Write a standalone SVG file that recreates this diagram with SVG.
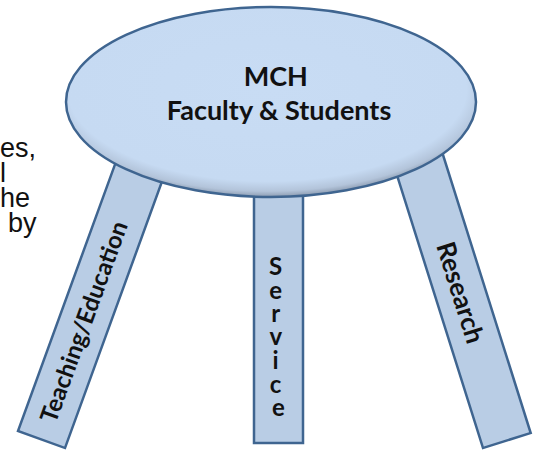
<svg xmlns="http://www.w3.org/2000/svg" width="535" height="450" viewBox="0 0 535 450">
  <defs>
    <!-- bevelled top: light centre, darker rim toward the lower edge -->
    <radialGradient id="topShade" cx="0.49" cy="0.43" r="0.58" fx="0.49" fy="0.43">
      <stop offset="0" stop-color="#c8dcf4"/>
      <stop offset="0.84" stop-color="#c6daf2"/>
      <stop offset="0.93" stop-color="#b3c4da"/>
      <stop offset="1" stop-color="#7f8ea3"/>
    </radialGradient>
  </defs>
  <style>
    .leg { fill: #b9cde5; stroke: #3f6590; stroke-width: 2.5; }
    .top { fill: url(#topShade); stroke: #3f6590; stroke-width: 2.5; }
    .lbl { font-family: Lato, "Open Sans", sans-serif; font-weight: 700; fill: #111; }
    .side { font-family: "Liberation Sans", Arial, sans-serif; font-size: 27px; fill: #111; }
  </style>

  <!-- body text running off the left edge -->
  <g id="side-text" class="side">
    <text x="0" y="157">es,</text>
    <text x="0" y="182">l</text>
    <text x="0" y="207">he</text>
    <text x="8" y="232">by</text>
  </g>

  <!-- legs of the stool -->
  <g id="leg-teaching" transform="translate(65,448) rotate(20)">
    <rect class="leg" x="-50" y="-300" width="50" height="300"/>
    <text class="lbl" font-size="24" text-anchor="middle" transform="translate(-25,-125) rotate(-90)" y="8">Teaching/Education</text>
  </g>

  <g id="leg-service">
    <rect class="leg" x="254" y="186" width="49" height="257"/>
    <text class="lbl" font-size="24" text-anchor="middle">
      <tspan x="278.5" y="275">S</tspan>
      <tspan x="278.5" y="299">e</tspan>
      <tspan x="278.5" y="322">r</tspan>
      <tspan x="278.5" y="345">v</tspan>
      <tspan x="278.5" y="369">i</tspan>
      <tspan x="278.5" y="393">c</tspan>
      <tspan x="278.5" y="416">e</tspan>
    </text>
  </g>

  <g id="leg-research" transform="translate(483,448) rotate(-17.5)">
    <rect class="leg" x="0" y="-300" width="50" height="300"/>
    <text class="lbl" font-size="26" text-anchor="middle" transform="translate(25,-155) rotate(90)" y="9">Research</text>
  </g>

  <!-- seat -->
  <g id="seat">
    <ellipse class="top" cx="271" cy="102" rx="205" ry="95"/>
    <text class="lbl" font-size="27" text-anchor="middle">
      <tspan x="279" y="86">MCH</tspan>
      <tspan x="279" y="120">Faculty &amp; Students</tspan>
    </text>
  </g>
</svg>
